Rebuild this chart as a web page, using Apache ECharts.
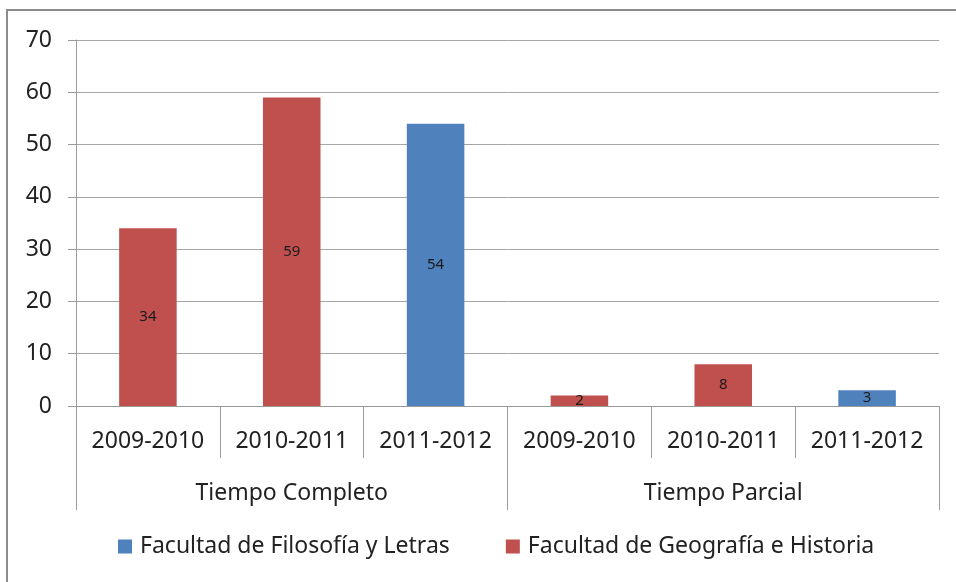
<!DOCTYPE html>
<html>
<head>
<meta charset="utf-8">
<script src="https://cdn.jsdelivr.net/npm/echarts@6/dist/echarts.min.js"></script>
<style>
  html, body { margin: 0; padding: 0; background: #fff; }
  #main { width: 956px; height: 582px; }
</style>
</head>
<body>
<div id="main"></div>
<script>
// 数据
const years = ['2009-2010', '2010-2011', '2011-2012', '2009-2010', '2010-2011', '2011-2012'];
const groups = ['Tiempo Completo', 'Tiempo Parcial'];
const filosofia = [null, null, 54, null, null, 3];
const geografia = [34, 59, null, 2, 8, null];
const yTicks = { min: 0, max: 70, interval: 10 };

const chart = echarts.init(document.getElementById('main'));
const font = '"Noto Sans", sans-serif';

const barLabel = {
  show: true,
  position: 'inside',
  color: '#1a1a1a',
  fontFamily: font,
  fontSize: 15
};

const option = {
  animation: false,
  backgroundColor: '#fff',
  graphic: [{
    type: 'rect',
    shape: { x: 7, y: 10, width: 980, height: 600 },
    style: { fill: 'none', stroke: '#8c8c8c', lineWidth: 2 },
    silent: true
  }],
  grid: { left: 76, right: 17, top: 40, bottom: 176 },
  legend: {
    bottom: 19,
    left: 113,
    itemWidth: 14,
    itemHeight: 14,
    itemGap: 56,
    icon: 'rect',
    textStyle: { fontFamily: font, fontSize: 23, color: '#222', padding: [0, 0, 0, 3] },
    data: ['Facultad de Filosofía y Letras', 'Facultad de Geografía e Historia']
  },
  xAxis: [
    {
      type: 'category',
      data: years,
      position: 'bottom',
      axisLine: { show: true, lineStyle: { color: '#999' } },
      axisTick: { show: true, interval: 0, length: 52, lineStyle: { color: '#999' } },
      axisLabel: { interval: 0, margin: 24, fontFamily: font, fontSize: 23, color: '#222' }
    },
    {
      type: 'category',
      data: groups,
      position: 'bottom',
      axisLine: { show: false },
      axisTick: { show: true, interval: 0, length: 104, lineStyle: { color: '#999' } },
      axisLabel: { interval: 0, margin: 76, fontFamily: font, fontSize: 23, color: '#222' }
    }
  ],
  yAxis: {
    type: 'value',
    min: yTicks.min,
    max: yTicks.max,
    interval: yTicks.interval,
    axisLine: { show: true, lineStyle: { color: '#999' } },
    axisTick: { show: true, length: 8, lineStyle: { color: '#999' } },
    axisLabel: { margin: 24, fontFamily: font, fontSize: 23, color: '#222' },
    splitLine: { lineStyle: { color: '#a6a6a6' } }
  },
  series: [
    {
      name: 'Facultad de Filosofía y Letras',
      type: 'bar',
      stack: 'total',
      barWidth: '40%',
      data: filosofia,
      itemStyle: { color: '#4F81BD' },
      label: barLabel
    },
    {
      name: 'Facultad de Geografía e Historia',
      type: 'bar',
      stack: 'total',
      barWidth: '40%',
      data: geografia,
      itemStyle: { color: '#C0504D' },
      label: barLabel
    }
  ]
};

chart.setOption(option);
</script>
</body>
</html>
